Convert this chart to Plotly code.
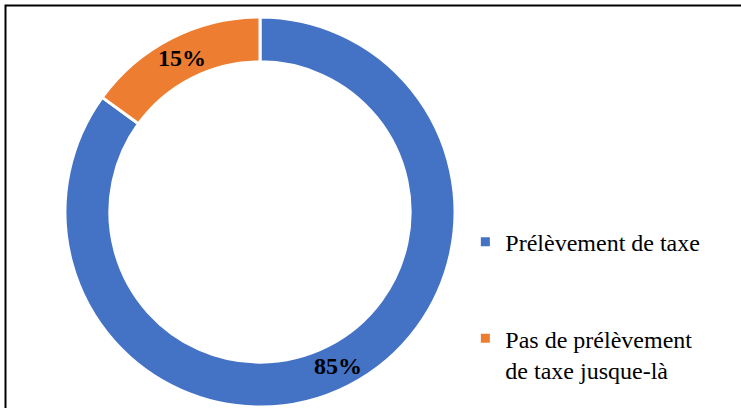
import math
import plotly.graph_objects as go

categories = ["Prélèvement de taxe", "Pas de prélèvement<br>de taxe jusque-là"]
values = [85, 15]
colors = ["#4472C4", "#ED7D31"]

# legend display labels (extra blank lines give the vertical spacing between entries)
legend_labels = [categories[0] + "<br> <br> ", categories[1]]

W, H = 741, 408
cx, cy, r = 260, 212, 195
HOLE = 0.77

fig = go.Figure(
    go.Pie(
        labels=legend_labels,
        values=values,
        hole=HOLE,
        sort=False,
        direction="clockwise",
        rotation=0,
        marker=dict(colors=colors, line=dict(color="white", width=3)),
        textinfo="none",
        domain=dict(x=[(cx - r) / W, (cx + r) / W], y=[1 - (cy + r) / H, 1 - (cy - r) / H]),
        hoverinfo="label+percent",
    )
)

# percentage labels centred in the ring at each slice's mid-angle (derived from the values)
total = sum(values)
rm = r * (1 + HOLE) / 2
annotations = []
cum = 0
for v in values:
    theta = 2 * math.pi * (cum + v / 2) / total
    cum += v
    px = cx + rm * math.sin(theta)
    py = cy - rm * math.cos(theta)
    annotations.append(dict(
        x=px / W, y=1 - py / H, xref="paper", yref="paper",
        text=f"{round(100 * v / total)}%", showarrow=False,
        xanchor="center", yanchor="middle",
        font=dict(family="Liberation Serif", size=24, color="black", weight="bold"),
    ))

fig.update_layout(
    width=W,
    height=H,
    margin=dict(l=0, r=0, t=0, b=0),
    paper_bgcolor="white",
    plot_bgcolor="white",
    showlegend=True,
    legend=dict(
        x=0.628,
        y=0.251,
        xanchor="left",
        yanchor="middle",
        valign="top",
        font=dict(family="Liberation Serif", size=24, color="black"),
        bgcolor="rgba(0,0,0,0)",
    ),
    annotations=annotations,
    shapes=[
        dict(type="rect", xref="paper", yref="paper", x0=5.5 / W, x1=1.05, y0=-0.05, y1=1 - 5.5 / H,
             line=dict(color="black", width=2), fillcolor="rgba(0,0,0,0)", layer="above")
    ],
)

fig.write_html(
    "out.html",
    config={"displayModeBar": False},
    post_script="document.body.style.margin='0';document.body.style.overflow='hidden';",
)
